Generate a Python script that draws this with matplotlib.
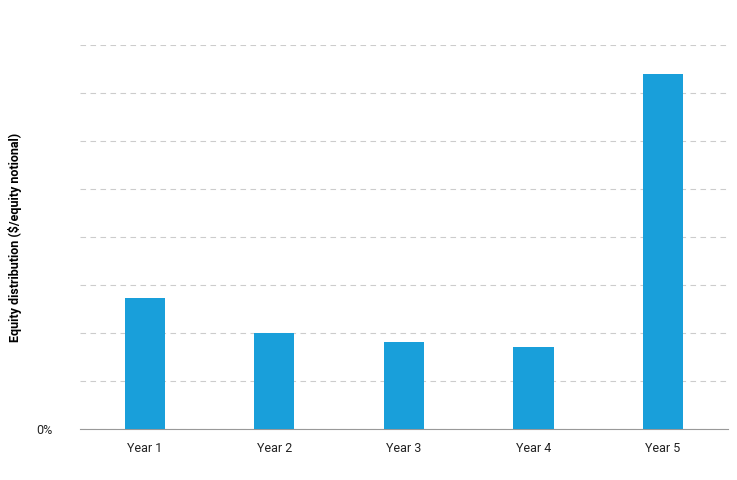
import matplotlib.pyplot as plt

years = ['Year 1', 'Year 2', 'Year 3', 'Year 4', 'Year 5']
# heights in gridline units (grid step = 1)
values = [2.73, 2.0, 1.81, 1.71, 7.4]

plt.rcParams['font.family'] = ['Roboto', 'DejaVu Sans']

fig = plt.figure(figsize=(7.37, 4.8), dpi=100)
ax = fig.add_axes([0.1085, 0.106, 0.879, 0.8])

ax.bar(range(len(years)), values, width=0.31, color='#199fda', zorder=3)

ax.set_xlim(-0.5, 4.5)
ax.set_ylim(0, 8)
ax.set_yticks(range(0, 9))
ax.set_yticklabels(['0%'] + [''] * 8)
ax.set_xticks(range(len(years)))
ax.set_xticklabels(years)
ax.yaxis.grid(True, linestyle=(0, (5, 4)), color='#cccccc', linewidth=0.8)
ax.tick_params(axis='both', length=0, labelsize=9, colors='#222222')
ax.tick_params(axis='x', pad=9)
ax.tick_params(axis='y', pad=20)
for s in ['top', 'right', 'left']:
    ax.spines[s].set_visible(False)
ax.spines['bottom'].set_color('#999999')
ax.set_ylabel('Equity distribution ($/equity notional)', fontsize=9,
              fontweight='bold', labelpad=10)

fig.savefig('out.png', dpi=100)
